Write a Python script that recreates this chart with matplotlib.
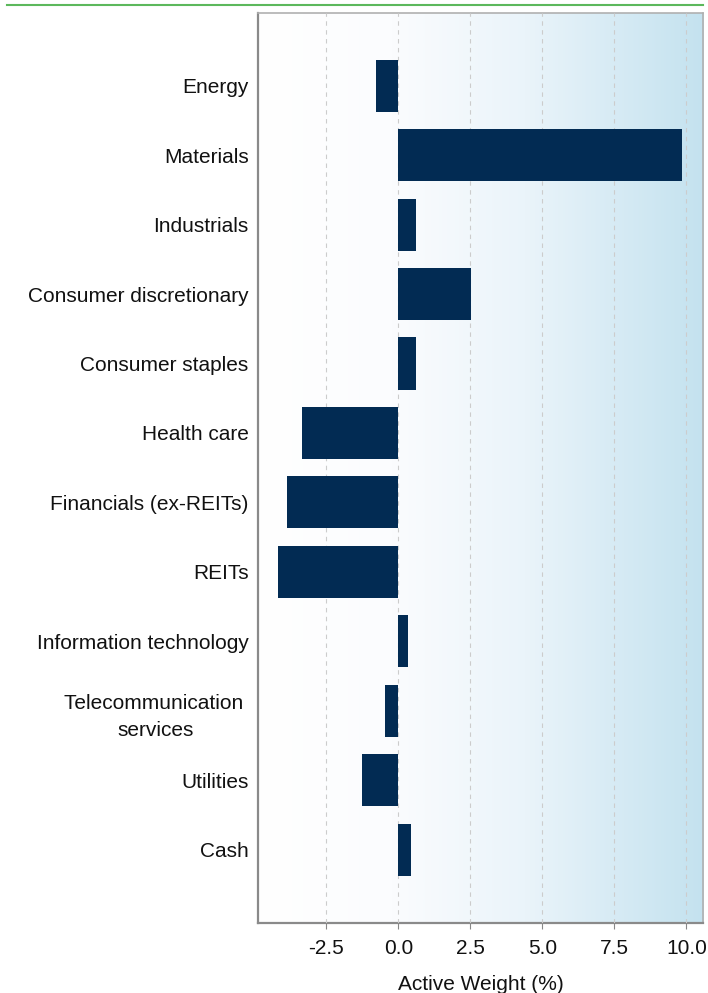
import numpy as np
import matplotlib
matplotlib.use('Agg')
import matplotlib.pyplot as plt
from matplotlib.colors import LinearSegmentedColormap
from matplotlib.lines import Line2D

sectors = ['Energy', 'Materials', 'Industrials', 'Consumer discretionary',
           'Consumer staples', 'Health care', 'Financials (ex-REITs)', 'REITs',
           'Information technology', 'Telecommunication \nservices',
           'Utilities', 'Cash']
active_weight = [-0.77, 9.84, 0.61, 2.51, 0.61, -3.35, -3.87, -4.17,
                 0.33, -0.46, -1.27, 0.43]
xticks = [-2.5, 0.0, 2.5, 5.0, 7.5, 10.0]

plt.rcParams['font.family'] = ['Liberation Sans', 'DejaVu Sans']

fig = plt.figure(figsize=(7.08, 9.93), dpi=100)
ax = fig.add_axes([0.3648, 0.0708, 0.6286, 0.9164])

# background gradient, white -> light blue
cmap = LinearSegmentedColormap.from_list(
    'bg', [(0.0, '#ffffff'), (0.3, '#fbfcfe'), (0.6, '#eaf4fa'), (1.0, '#c4e2ef')])
grad = np.linspace(0, 1, 256).reshape(1, -1)
xmin, xmax = -4.86, 10.59
ax.imshow(grad, cmap=cmap, aspect='auto', extent=[xmin, xmax, 12.05, -1.05],
          zorder=0, interpolation='bilinear')

y = np.arange(len(sectors))
ax.barh(y, active_weight, height=0.75, color='#022b53', zorder=3)

ax.set_xlim(xmin, xmax)
ax.set_ylim(11 + 1.05, -1.05)
ax.set_xticks(xticks)
ax.set_xticklabels([f'{t:.1f}' for t in xticks])
ax.set_yticks(y)
ax.set_yticklabels(sectors, multialignment='center', linespacing=1.55)
ax.grid(axis='x', color='#cccccc', linestyle=(0, (4, 4)), linewidth=0.8, zorder=1)
ax.set_axisbelow(False)

ax.tick_params(axis='y', length=0, pad=7, labelsize=15, labelcolor='#111111')
ax.tick_params(axis='x', length=4, color='#888888', pad=8, labelsize=15,
               labelcolor='#111111')
ax.set_xlabel('Active Weight (%)', fontsize=15, color='#111111', labelpad=12)

for side in ['left', 'bottom']:
    ax.spines[side].set_color('#8a8a8a')
    ax.spines[side].set_linewidth(1.6)
for side in ['top', 'right']:
    ax.spines[side].set_color('#b0b0b0')
    ax.spines[side].set_linewidth(1.2)

# green rule at the top of the panel
fig.add_artist(Line2D([7 / 708, 703 / 708], [1 - 5 / 993, 1 - 5 / 993],
                      color='#5cb85c', linewidth=1.5))

plt.savefig('out.png', dpi=100)
